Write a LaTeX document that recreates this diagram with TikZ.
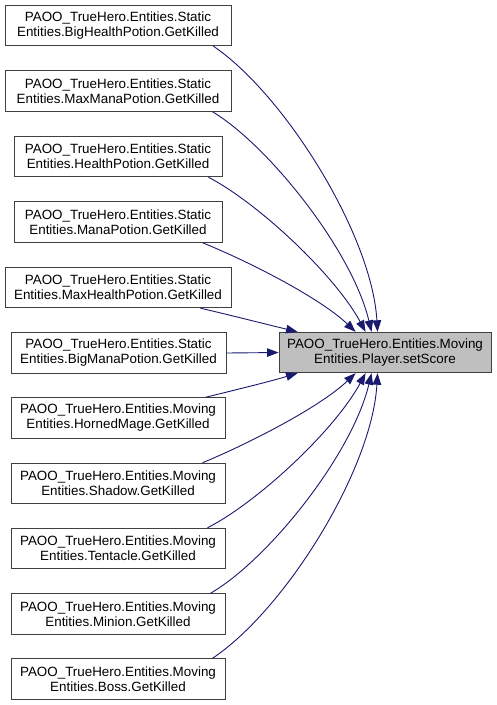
\documentclass[tikz,border=0pt]{standalone}
\usepackage{fontspec}
\setmainfont{Liberation Sans}
\usetikzlibrary{arrows.meta}
\definecolor{grey25}{RGB}{64,64,64}
\definecolor{grey75}{RGB}{191,191,191}
\definecolor{midblue}{RGB}{25,25,112}
\tikzset{
  box/.style={draw=grey25, line width=0.9pt, fill=white, align=center, inner sep=0pt,
    minimum height=40.5pt, font=\fontsize{13.4}{15}\selectfont},
  focus/.style={box, fill=grey75},
  edge/.style={draw=midblue, line width=0.9pt, -{Triangle[length=11.5pt,width=8.5pt]}},
}
\begin{document}
\begin{tikzpicture}[x=1pt,y=-1pt]
\useasboundingbox (0,0) rectangle (496,705);
\fill[white] (0,0) rectangle (496,705);
\node[box, minimum width=226pt] (n1) at (118,25.5) {PAOO\_TrueHero.Entities.Static\\Entities.BigHealthPotion.GetKilled};
\node[box, minimum width=226pt] (n2) at (118,91) {PAOO\_TrueHero.Entities.Static\\Entities.MaxManaPotion.GetKilled};
\node[box, minimum width=208pt] (n3) at (118,156.5) {PAOO\_TrueHero.Entities.Static\\Entities.HealthPotion.GetKilled};
\node[box, minimum width=208pt] (n4) at (118,222) {PAOO\_TrueHero.Entities.Static\\Entities.ManaPotion.GetKilled};
\node[box, minimum width=226pt] (n5) at (118,287.5) {PAOO\_TrueHero.Entities.Static\\Entities.MaxHealthPotion.GetKilled};
\node[box, minimum width=215pt] (n6) at (118.5,353) {PAOO\_TrueHero.Entities.Static\\Entities.BigManaPotion.GetKilled};
\node[box, minimum width=214pt] (n7) at (118,418) {PAOO\_TrueHero.Entities.Moving\\Entities.HornedMage.GetKilled};
\node[box, minimum width=214pt] (n8) at (118,483.5) {PAOO\_TrueHero.Entities.Moving\\Entities.Shadow.GetKilled};
\node[box, minimum width=214pt] (n9) at (118,548.5) {PAOO\_TrueHero.Entities.Moving\\Entities.Tentacle.GetKilled};
\node[box, minimum width=214pt] (n10) at (118,614) {PAOO\_TrueHero.Entities.Moving\\Entities.Minion.GetKilled};
\node[box, minimum width=214pt] (n11) at (118,679) {PAOO\_TrueHero.Entities.Moving\\Entities.Boss.GetKilled};
\node[focus, minimum width=212pt] (sc) at (385,352.5) {PAOO\_TrueHero.Entities.Moving\\Entities.Player.setScore};

\draw[edge] ([xshift=-18pt]n1.south east) .. controls (285,95) and (372,235) .. ([xshift=99pt]sc.north west);
\draw[edge] ([xshift=-19pt]n2.south east) .. controls (268,145) and (352,250) .. ([xshift=93pt]sc.north west);
\draw[edge] ([xshift=-14pt]n3.south east) .. controls (258,203) and (335,275) .. ([xshift=87pt]sc.north west);
\draw[edge] ([xshift=-20pt]n4.south east) .. controls (250,262) and (320,298) .. ([xshift=77pt]sc.north west);
\draw[edge] ([xshift=-31pt]n5.south east) .. controls (230,315) and (265,324) .. ([xshift=19pt]sc.north west);
\draw[edge] (n6.east) -- (sc.west);
\draw[edge] ([xshift=-20pt]n7.north east) .. controls (235,390) and (268,382) .. ([xshift=19pt]sc.south west);
\draw[edge] ([xshift=-23pt]n8.north east) .. controls (250,443) and (320,407) .. ([xshift=77pt]sc.south west);
\draw[edge] ([xshift=-18pt]n9.north east) .. controls (258,502) and (335,430) .. ([xshift=87pt]sc.south west);
\draw[edge] ([xshift=-15pt]n10.north east) .. controls (268,560) and (352,455) .. ([xshift=93pt]sc.south west);
\draw[edge] ([xshift=-13pt]n11.north east) .. controls (285,610) and (372,470) .. ([xshift=99pt]sc.south west);
\end{tikzpicture}
\end{document}
